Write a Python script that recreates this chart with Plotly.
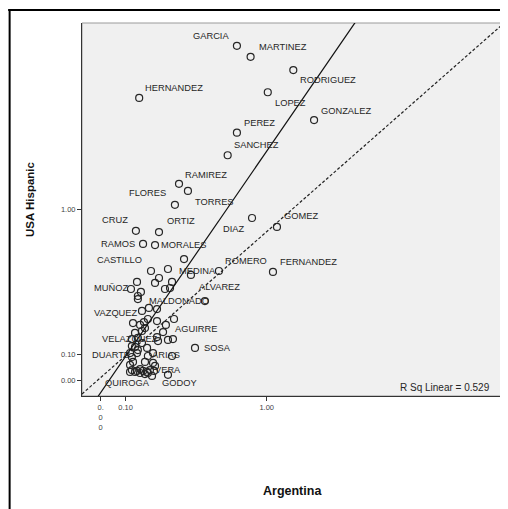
import numpy as np
import plotly.graph_objects as go

# share of each surname (%), Argentina vs USA Hispanic
LABELED_NAMES = ['GARCIA', 'MARTINEZ', 'RODRIGUEZ', 'LOPEZ', 'GONZALEZ', 'HERNANDEZ',
                 'PEREZ', 'SANCHEZ', 'RAMIREZ', 'TORRES', 'FLORES', 'CRUZ', 'ORTIZ',
                 'DIAZ', 'GOMEZ', 'RAMOS', 'MORALES', 'CASTILLO', 'MEDINA', 'ROMERO',
                 'FERNANDEZ', 'ALVAREZ', 'MUÑOZ', 'MALDONADO', 'VAZQUEZ', 'AGUIRRE',
                 'VELAZQUEZ', 'SOSA', 'DUARTE', 'ARIAS', 'VERA', 'GODOY', 'QUIROGA']
LABELED_ARG = [0.75, 0.86, 1.26, 1.01, 1.49, 0.16,
               0.75, 0.68, 0.364, 0.416, 0.341, 0.145, 0.256,
               0.872, 1.096, 0.178, 0.236, 0.216, 0.325, 0.617,
               1.058, 0.434, 0.150, 0.168, 0.206, 0.292,
               0.303, 0.459, 0.150, 0.201, 0.197, 0.303, 0.119]
LABELED_USA = [3.27, 3.05, 2.80, 2.42, 2.00, 2.33,
               1.83, 1.55, 1.24, 1.17, 1.04, 0.82, 0.81,
               0.925, 0.851, 0.720, 0.712, 0.534, 0.466, 0.534,
               0.528, 0.509, 0.466, 0.407, 0.319, 0.233,
               0.163, 0.128, 0.106, 0.094, 0.031, 0.020, 0.031]

OTHER_ARG = [0.393, 0.303, 0.256, 0.236, 0.287, 0.314, 0.123, 0.154, 0.154, 0.522,
             0.246, 0.173, 0.201, 0.182, 0.246, 0.336, 0.132, 0.164, 0.277, 0.141,
             0.173, 0.187, 0.127, 0.154, 0.246, 0.251, 0.330, 0.127, 0.141, 0.173,
             0.197, 0.154, 0.119, 0.127, 0.226, 0.325, 0.132, 0.187, 0.226, 0.119,
             0.127, 0.150, 0.164, 0.178, 0.211, 0.231, 0.236, 0.201, 0.221, 0.141,
             0.164, 0.187]
OTHER_USA = [0.613, 0.547, 0.490, 0.460, 0.424, 0.430, 0.424, 0.384, 0.367, 0.356,
             0.313, 0.303, 0.262, 0.247, 0.252, 0.262, 0.242, 0.233, 0.199, 0.195,
             0.204, 0.218, 0.167, 0.172, 0.176, 0.158, 0.167, 0.136, 0.132, 0.149,
             0.128, 0.119, 0.106, 0.090, 0.106, 0.094, 0.070, 0.070, 0.066, 0.058,
             0.038, 0.035, 0.042, 0.035, 0.038, 0.035, 0.054, 0.027, 0.016, 0.031,
             0.027, 0.023]

TICK_VALUES = [0.0, 0.1, 1.0]
X_TICK_TEXT = ['0.<br>0<br>0', '0.10', '1.00']
Y_TICK_TEXT = ['0.00', '0.10', '1.00']
X_LIMITS = [-0.0665, 5.344]
Y_LIMITS = [-0.0548, 3.769]

R_SQ = 0.529
# lines are straight on the scaled axes
FIT_INTERCEPT, FIT_SLOPE = 0.036, 1.412
REF_INTERCEPT, REF_SLOPE = -0.0166, 0.853

SCALE_OFFSET = 0.7

# label placement: (xanchor, xshift, yshift) in px
LABEL_POS = {
    'GARCIA': ('right', -6, 10), 'MARTINEZ': ('left', 6, 10),
    'RODRIGUEZ': ('left', 5, -10), 'LOPEZ': ('left', 5, -11),
    'GONZALEZ': ('left', 5, 9), 'HERNANDEZ': ('left', 4, 10),
    'PEREZ': ('left', 5, 10), 'SANCHEZ': ('left', 4, 10),
    'RAMIREZ': ('left', 4, 9), 'TORRES': ('left', 5, -11),
    'FLORES': ('right', -7, 12), 'CRUZ': ('right', -6, 11),
    'ORTIZ': ('left', 6, 11), 'DIAZ': ('right', -6, -11),
    'GOMEZ': ('left', 5, 11), 'RAMOS': ('right', -6, 0),
    'MORALES': ('left', 4, 0), 'CASTILLO': ('right', -7, 11),
    'MEDINA': ('left', 5, 11), 'ROMERO': ('left', 4, 10),
    'FERNANDEZ': ('left', 5, 10), 'ALVAREZ': ('left', 6, -12),
    'MUÑOZ': ('right', -7, -6), 'MALDONADO': ('left', 6, -9),
    'VAZQUEZ': ('right', -9, -5), 'AGUIRRE': ('left', 7, -4),
    'VELAZQUEZ': ('right', -8, 1), 'SOSA': ('left', 7, 0),
    'DUARTE': ('right', -5, -2), 'ARIAS': ('left', 2, 1),
    'VERA': ('left', 6, 2), 'GODOY': ('left', -8, -8),
    'QUIROGA': ('left', -27, -11),
}

FONT = 'Liberation Sans, Arial, sans-serif'
INK = '#262626'


def scale(v):
    return np.log10(np.asarray(v, dtype=float) + SCALE_OFFSET)


x_range = scale(X_LIMITS)
y_range = scale(Y_LIMITS)

fig = go.Figure()

marker = dict(symbol='circle-open', size=7, color=INK, line=dict(width=1.2, color=INK))

fig.add_trace(go.Scatter(
    x=scale(OTHER_ARG), y=scale(OTHER_USA), mode='markers',
    marker=marker, hoverinfo='skip', showlegend=False
))
fig.add_trace(go.Scatter(
    x=scale(LABELED_ARG), y=scale(LABELED_USA), mode='markers',
    marker=marker, text=LABELED_NAMES, hoverinfo='text', showlegend=False
))

# reference (dashed) and fit (solid) lines
fig.add_trace(go.Scatter(
    x=x_range, y=REF_INTERCEPT + REF_SLOPE * x_range, mode='lines',
    line=dict(color='#222222', width=1.2, dash='3px,2px'),
    hoverinfo='skip', showlegend=False
))
fig.add_trace(go.Scatter(
    x=x_range, y=FIT_INTERCEPT + FIT_SLOPE * x_range, mode='lines',
    line=dict(color='#111111', width=1.2),
    hoverinfo='skip', showlegend=False
))

for name, xv, yv in zip(LABELED_NAMES, scale(LABELED_ARG), scale(LABELED_USA)):
    anchor, dx, dy = LABEL_POS[name]
    fig.add_annotation(
        x=xv, y=yv, text=name, showarrow=False,
        xanchor=anchor, yanchor='middle', xshift=dx, yshift=dy,
        font=dict(family=FONT, size=9.3, color=INK)
    )

fig.add_annotation(
    x=0.9716, y=0.0241, xref='paper', yref='paper',
    text=f'R Sq Linear = {R_SQ:.3f}', showarrow=False,
    xanchor='right', yanchor='middle',
    font=dict(family=FONT, size=10, color=INK)
)

# axis titles
fig.add_annotation(
    x=-0.1232, y=0.528, xref='paper', yref='paper',
    text='<b>USA Hispanic</b>', showarrow=False, textangle=-90,
    xanchor='center', yanchor='middle',
    font=dict(family=FONT, size=11.5, color='#111111')
)
fig.add_annotation(
    x=0.4988, y=-0.2547, xref='paper', yref='paper',
    text='<b>Argentina</b>', showarrow=False,
    xanchor='center', yanchor='middle',
    font=dict(family=FONT, size=12.5, color='#111111')
)

# plot frame and outer chart border
fig.add_shape(type='rect', xref='paper', yref='paper', x0=0, y0=0, x1=1, y1=1,
              line=dict(color='#9a9a9a', width=1), layer='below')
fig.add_shape(type='line', xref='paper', yref='paper', x0=-0.175, x1=1.01,
              y0=1.0349, y1=1.0349, line=dict(color='black', width=2))
fig.add_shape(type='line', xref='paper', yref='paper', x0=-0.1715, x1=-0.1715,
              y0=1.037, y1=-0.31, line=dict(color='black', width=2))

axis_common = dict(
    showgrid=False, zeroline=False, showline=True, linecolor='#333333', linewidth=1,
    ticks='outside', ticklen=4, tickwidth=1, tickcolor='#333333',
    tickfont=dict(family=FONT, size=7.5, color='#444444'),
    tickvals=scale(TICK_VALUES), fixedrange=True
)

# the page adds an 8px body margin, so the figure is 8px smaller
fig.update_layout(
    width=500, height=501,
    margin=dict(l=74, r=4, t=15, b=113),
    paper_bgcolor='white',
    plot_bgcolor='#f0f0f0',
    font=dict(family=FONT, color=INK),
    xaxis=dict(range=list(x_range), ticktext=X_TICK_TEXT, **axis_common),
    yaxis=dict(range=list(y_range), ticktext=Y_TICK_TEXT, **axis_common),
)

fig.write_html("out.html")
